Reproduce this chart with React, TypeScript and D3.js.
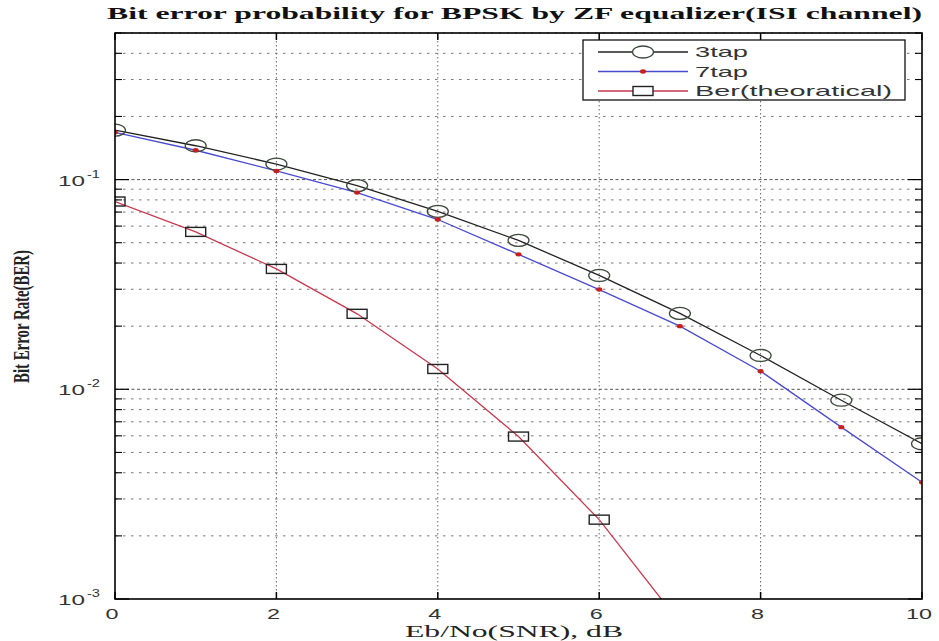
import React from "react";
import * as d3 from "d3";

const snr = [0, 1, 2, 3, 4, 5, 6, 7, 8, 9, 10];
const tap3 = [0.172, 0.145, 0.1186, 0.0936, 0.0705, 0.0513, 0.0349, 0.023, 0.0145, 0.00887, 0.0055];
const tap7 = [0.168, 0.138, 0.11, 0.0867, 0.0645, 0.044, 0.0299, 0.02, 0.0122, 0.0066, 0.0036];
const snrTheory = [0, 1, 2, 3, 4, 5, 6, 7];
const berTheory = [0.0786, 0.0563, 0.0375, 0.0229, 0.0125, 0.00595, 0.00239, 0.00077];
const xTicks = [0, 2, 4, 6, 8, 10];
const yDecades = [1e-3, 1e-2, 1e-1];
const yDecadeLabels = ["-3", "-2", "-1"];
const legendLabels = ["3tap", "7tap", "Ber(theoratical)"];
const title = "Bit error probability  for BPSK by ZF equalizer(ISI channel)";
const xLabel = "Eb/No(SNR), dB";
const yLabel = "Bit Error Rate(BER)";

const W = 939, H = 641;
const L = 115, R = 922, T = 33, B = 599;

export default function App() {
  const x = d3.scaleLinear().domain([0, 10]).range([L, R]);
  const y = d3.scaleLog().domain([1e-3, 0.5]).range([B, T]);

  const minors: number[] = [];
  [1e-3, 1e-2, 1e-1].forEach((d) => {
    for (let k = 2; k <= 9; k++) {
      const v = d * k;
      if (v <= 0.5 + 1e-9) minors.push(v);
    }
  });

  const line = d3
    .line<[number, number]>()
    .x((d) => x(d[0]))
    .y((d) => y(d[1]));

  const d3tap = line(snr.map((s, i) => [s, tap3[i]]) as [number, number][]) || "";
  const d7tap = line(snr.map((s, i) => [s, tap7[i]]) as [number, number][]) || "";
  const dBer = line(snrTheory.map((s, i) => [s, berTheory[i]]) as [number, number][]) || "";

  const blue = "#4a4ad0";
  const red = "#c8394f";
  const dotRed = "#c81e1e";
  const circ = "#3c4a3c";
  const sans = "Liberation Sans, Arial, sans-serif";
  const serif = "Liberation Serif, Times New Roman, serif";

  const legX = 583, legY = 40, legW = 322, legH = 60;
  const rows = [52, 71.5, 91];

  return (
    <div style={{ position: "fixed", left: 0, top: 0, width: W, height: H, background: "#fff" }}>
      <svg width={W} height={H} style={{ display: "block" }}>
        <rect x={0} y={0} width={W} height={H} fill="#fff" />
        <defs>
          <clipPath id="plotClip">
            <rect x={L} y={T} width={R - L} height={B - T} />
          </clipPath>
        </defs>

        {/* grid */}
        {minors.map((v, i) => (
          <line key={"mg" + i} x1={L} x2={R} y1={y(v)} y2={y(v)} stroke="#777" strokeWidth={1} strokeDasharray="2.5,5.5" />
        ))}
        {yDecades.slice(1).map((v, i) => (
          <line key={"Mg" + i} x1={L} x2={R} y1={y(v)} y2={y(v)} stroke="#555" strokeWidth={1} strokeDasharray="3,2.5" />
        ))}
        {xTicks.slice(1, -1).map((v, i) => (
          <line key={"xg" + i} x1={x(v)} x2={x(v)} y1={T} y2={B} stroke="#666" strokeWidth={1} strokeDasharray="1.5,2.5" />
        ))}

        {/* ticks */}
        {xTicks.map((v, i) => (
          <g key={"xt" + i}>
            <line x1={x(v)} x2={x(v)} y1={B} y2={B - 7} stroke="#000" strokeWidth={1.5} />
            <line x1={x(v)} x2={x(v)} y1={T} y2={T + 7} stroke="#000" strokeWidth={1.5} />
          </g>
        ))}
        {yDecades.map((v, i) => (
          <g key={"yt" + i}>
            <line x1={L} x2={L + 14} y1={y(v)} y2={y(v)} stroke="#000" strokeWidth={1.2} />
            <line x1={R} x2={R - 14} y1={y(v)} y2={y(v)} stroke="#000" strokeWidth={1.2} />
          </g>
        ))}
        {minors.map((v, i) => (
          <g key={"ymt" + i}>
            <line x1={L} x2={L + 7} y1={y(v)} y2={y(v)} stroke="#000" strokeWidth={1.1} />
            <line x1={R} x2={R - 7} y1={y(v)} y2={y(v)} stroke="#000" strokeWidth={1.1} />
          </g>
        ))}

        {/* data */}
        <g clipPath="url(#plotClip)">
          <path d={dBer} fill="none" stroke={red} strokeWidth={1.3} />
          <path d={d3tap} fill="none" stroke="#222" strokeWidth={1.3} />
          <path d={d7tap} fill="none" stroke={blue} strokeWidth={1.3} />
          {snr.map((s, i) => (
            <ellipse key={"c" + i} cx={x(s)} cy={y(tap3[i])} rx={10.5} ry={6} fill="none" stroke={circ} strokeWidth={1.3} />
          ))}
          {snr.map((s, i) => (
            <ellipse key={"d" + i} cx={x(s)} cy={y(tap7[i])} rx={3} ry={2.2} fill={dotRed} />
          ))}
          {snrTheory.map((s, i) => (
            <rect key={"s" + i} x={x(s) - 10} y={y(berTheory[i]) - 4.5} width={20} height={9} fill="none" stroke="#222" strokeWidth={1.4} />
          ))}
        </g>

        {/* frame */}
        <rect x={L} y={T} width={R - L} height={B - T} fill="none" stroke="#000" strokeWidth={1.6} />

        {/* x tick labels */}
        {xTicks.map((v, i) => {
          const s = String(v);
          return (
            <text key={"xl" + i} x={x(v) - 3} y={619} textAnchor="middle" fontFamily={sans} fontSize={15} fill="#333"
              textLength={s.length * 13} lengthAdjust="spacingAndGlyphs">{s}</text>
          );
        })}

        {/* y tick labels */}
        {yDecades.map((v, i) => (
          <g key={"yl" + i}>
            <text x={58} y={y(v) + 6} fontFamily={sans} fontSize={15} fill="#333" textLength={27} lengthAdjust="spacingAndGlyphs">10</text>
            <text x={87} y={y(v) - 2} fontFamily={sans} fontSize={10} fill="#333" textLength={13} lengthAdjust="spacingAndGlyphs">{yDecadeLabels[i]}</text>
          </g>
        ))}

        {/* title */}
        <text x={107} y={19} fontFamily={serif} fontWeight="bold" fontSize={16} fill="#111" textLength={815} lengthAdjust="spacingAndGlyphs">{title}</text>

        {/* x label */}
        <text x={405} y={637} fontFamily={serif} fontSize={16} fill="#222" textLength={218} lengthAdjust="spacingAndGlyphs">{xLabel}</text>

        {/* y label */}
        <text transform="translate(29,383) rotate(-90)" x={0} y={0} fontFamily={serif} fontSize={23} fontWeight="bold" fill="#222" textLength={133} lengthAdjust="spacingAndGlyphs">{yLabel}</text>

        {/* legend */}
        <rect x={legX} y={legY} width={legW} height={legH} fill="#fff" stroke="#111" strokeWidth={1.3} />
        <line x1={598} x2={688} y1={rows[0]} y2={rows[0]} stroke="#222" strokeWidth={1.3} />
        <ellipse cx={643} cy={rows[0]} rx={10.5} ry={6} fill="#fff" stroke={circ} strokeWidth={1.3} />
        <line x1={598} x2={688} y1={rows[1]} y2={rows[1]} stroke={blue} strokeWidth={1.3} />
        <ellipse cx={643} cy={rows[1]} rx={3} ry={2.2} fill={dotRed} />
        <line x1={598} x2={688} y1={rows[2]} y2={rows[2]} stroke={red} strokeWidth={1.3} />
        <rect x={633} y={rows[2] - 4.5} width={20} height={9} fill="#fff" stroke="#222" strokeWidth={1.4} />
        {legendLabels.map((t, i) => (
          <text key={"lg" + i} x={695} y={rows[i] + 5} fontFamily={sans} fontSize={15} fill="#333"
            textLength={i === 2 ? 197 : 53} lengthAdjust="spacingAndGlyphs">{t}</text>
        ))}
      </svg>
    </div>
  );
}
